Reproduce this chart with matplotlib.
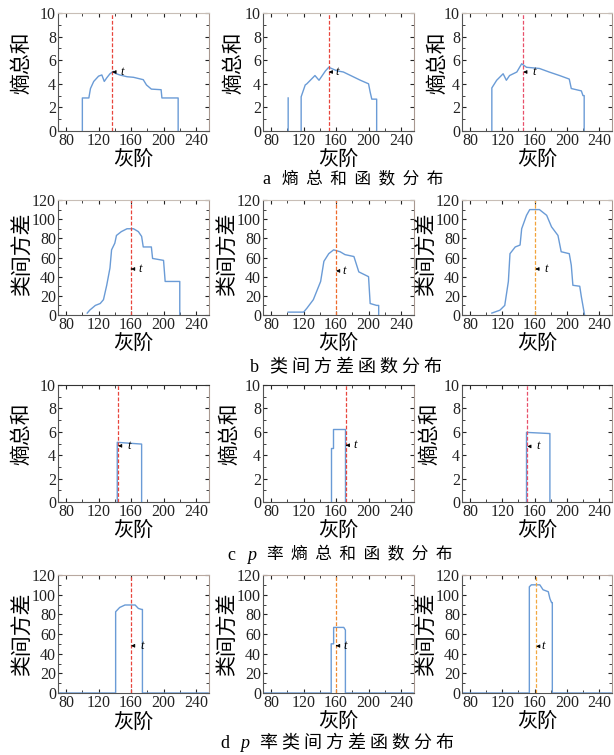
import numpy as np
import matplotlib
matplotlib.use("Agg")
import matplotlib.pyplot as plt
from matplotlib.ticker import MultipleLocator

plt.rcParams["font.family"] = ["Liberation Serif", "Noto Sans CJK SC", "DejaVu Sans"]

CJK = ["Noto Sans CJK SC", "DejaVu Sans"]
nan = np.nan

# ---- row a: entropy sum ----
A1_X = [100, 100, 108, 110, 114, 120, 124, 127, 130, 134, 138, 140, 146, 155, 163, 175, 179, 185, 197, 198, 218, 218]
A1_Y = [0, 2.8, 2.8, 3.6, 4.2, 4.65, 4.75, 4.2, 4.5, 4.85, 5.05, 4.9, 4.75, 4.6, 4.55, 4.35, 3.9, 3.55, 3.5, 2.8, 2.8, 0]
A2_X = [101, 101, nan, 117, 117, 122, 124, 134, 139, 143, 147, 151, 161, 169, 178, 190, 200, 202, 204, 210, 210]
A2_Y = [0, 2.8, nan, 0, 2.9, 3.9, 4.0, 4.7, 4.3, 4.7, 5.1, 5.4, 5.1, 5.0, 4.7, 4.3, 4.0, 3.3, 2.7, 2.7, 0]
A3_X = [107, 107, 113, 121, 125, 129, 138, 144, 150, 166, 178, 191, 203, 205.5, 218, 220, 221.5, 221.5]
A3_Y = [0, 3.65, 4.3, 4.85, 4.3, 4.7, 5.0, 5.7, 5.4, 5.3, 5.0, 4.7, 4.4, 3.6, 3.4, 3.0, 3.0, 0]

# ---- row b: between-class variance ----
B1_X = [106, 109, 116, 122, 126, 130, 134, 136, 140, 142, 148, 155, 163, 169, 173, 175, 185, 186.5, 200, 202, 220, 220]
B1_Y = [2, 5, 10, 12, 16, 31, 49, 68, 75, 83, 87, 90, 90, 87, 82, 71, 71, 59, 57, 35, 35, 0]
B2_X = [101, 120, 124, 132, 141, 145, 151, 157, 165, 171, 182, 188, 200, 202, 210, 212.5, 212.5]
B2_Y = [3, 3, 7, 16, 35, 56, 64, 68, 66, 63, 61, 45, 40, 12, 10, 10, 0]
B3_X = [107, 117, 123, 127.5, 129.5, 136, 142, 144, 150, 154, 166, 175, 181, 189, 193, 203, 205.5, 207.5, 216, 218, 222]
B3_Y = [2, 5, 10, 35, 64, 71, 73, 90, 104, 110, 110, 104, 92, 83, 66, 64, 52, 31, 30, 19, 0]

# ---- row c: p-rate entropy sum ----
C1_X = [143, 143, 173, 173]
C1_Y = [0, 5.1, 4.95, 0]
C2_X = [154, 154, 156, 156, 171, 171]
C2_Y = [0, 4.6, 4.6, 6.2, 6.2, 0]
C3_X = [150, 150, 179, 179]
C3_Y = [0, 5.95, 5.85, 0]

# ---- row d: p-rate between-class variance ----
D1_X = [0, 141, 141, 146, 152.5, 165, 169, 173, 174, 174, 255]
D1_Y = [0, 0, 82.6, 87, 89.5, 89.5, 86, 85, 85, 0, 0]
D2_X = [0, 154, 154, 157, 157, 169.5, 171.5, 171.5, 255]
D2_Y = [0, 0, 50, 50, 66.7, 66.7, 64, 0, 0]
D3_X = [0, 153.5, 153.5, 156, 166.5, 170.5, 177, 179, 181, 182, 182, 255]
D3_Y = [0, 0, 108, 110, 110, 105, 103, 96, 92, 92, 0, 0]

# thresholds t and the "t" marker (y, text x)
T_VALUES = [[137, 151, 146], [160, 160, 161], [144, 172, 151], [160, 160, 162]]
T_MARK_Y = [[5.0, 5.0, 5.0], [48, 46, 48], [4.8, 4.85, 4.75], [48, 48, 47.5]]
T_TEXT_X = [[149, 161, 159.5], [171, 169.5, 174], [158, 184, 164.5], [174, 171.5, 170.5]]
T_COLORS = [["#e8453c", "#e8453c", "#e8506a"],
            ["#e8453c", "#ef6a2a", "#f2a33a"],
            ["#e8453c", "#e8453c", "#e8506a"],
            ["#e8453c", "#f08a30", "#f2a840"]]

ROW_LABELS = ["熵总和", "类间方差", "熵总和", "类间方差"]
ROW_YMAX = [10, 120, 10, 120]
ROW_YSTEP = [2, 20, 2, 20]
X_TICKS = [80, 120, 160, 200, 240]

# captions: (letter, italic prefix, chinese text)
CAPTION_LETTERS = ["a", "b", "c", "d"]
CAPTION_ITALIC = ["", "", "p", "p"]
CAPTION_TEXT = ["熵总和函数分布", "类间方差函数分布", "率熵总和函数分布", "率类间方差函数分布"]

SERIES = [[(A1_X, A1_Y), (A2_X, A2_Y), (A3_X, A3_Y)],
          [(B1_X, B1_Y), (B2_X, B2_Y), (B3_X, B3_Y)],
          [(C1_X, C1_Y), (C2_X, C2_Y), (C3_X, C3_Y)],
          [(D1_X, D1_Y), (D2_X, D2_Y), (D3_X, D3_Y)]]

# layout in pixels of the 614x755 page
W, H = 614, 755
COL_LEFT = [58, 263, 462]
COL_WIDTH = [151, 151, 150]
ROW_TOP = [13, 200, 385, 575]
ROW_BOTTOM = [131, 315, 502, 693]
CAPTION_X = [353, 346, 340, 337]
CAPTION_Y = [180, 367, 555, 743]
CAPTION_SEP = ["  ", " ", "  ", " "]
CAPTION_SIZE = [12, 13, 12, 13]
YLABEL_X = [[-0.166, -0.12, -0.087], [-0.166, -0.166, -0.166],
            [-0.166, -0.152, -0.146], [-0.166, -0.166, -0.166]]
YLABEL_Y = [0.58, 0.53, 0.58, 0.5]
XLABEL_Y = [[-0.155, -0.15, -0.15], [-0.155, -0.155, -0.155],
            [-0.15, -0.15, -0.15], [-0.16, -0.15, -0.15]]
TOP_SPINE = ["#c8beb6", "#c8beb6", "#333333", "#b8a8a0"]

fig = plt.figure(figsize=(W / 100, H / 100), dpi=100)

for r in range(4):
    for c in range(3):
        ax = fig.add_axes([COL_LEFT[c] / W, 1 - ROW_BOTTOM[r] / H,
                           COL_WIDTH[c] / W, (ROW_BOTTOM[r] - ROW_TOP[r]) / H])
        xs, ys = SERIES[r][c]
        ax.plot(xs, ys, color="#6a9bd6", linewidth=1.0)

        t = T_VALUES[r][c]
        ax.axvline(t, color=T_COLORS[r][c], linestyle=(0, (3, 1.5)), linewidth=0.9)
        ax.annotate("t", xy=(t, T_MARK_Y[r][c]), xytext=(T_TEXT_X[r][c], T_MARK_Y[r][c]),
                    fontsize=9, style="italic", va="center", ha="center",
                    arrowprops=dict(arrowstyle="-|>", color="black", lw=0.6,
                                    mutation_scale=5, shrinkA=3, shrinkB=0))

        ymax = ROW_YMAX[r]
        ax.set_xlim(70, 256)
        ax.set_ylim(0, ymax)
        ax.set_xticks(X_TICKS)
        ax.xaxis.set_minor_locator(MultipleLocator(20))
        ax.set_yticks(np.arange(0, ymax + 1, ROW_YSTEP[r]))
        ax.yaxis.set_minor_locator(MultipleLocator(ROW_YSTEP[r] / 2))
        ax.tick_params(which="both", direction="in", top=True, right=True,
                       labelsize=11.5, pad=1.5, colors="#222222")
        ax.tick_params(which="major", length=3)
        ax.tick_params(which="minor", length=2)
        ax.spines["top"].set_color(TOP_SPINE[r])
        ax.spines["right"].set_color("#a89890")
        for side in ["left", "bottom"]:
            ax.spines[side].set_color("#555555")
        for sp in ax.spines.values():
            sp.set_linewidth(0.8)

        ax.set_ylabel(ROW_LABELS[r], family=CJK, fontsize=15)
        ax.yaxis.set_label_coords(YLABEL_X[r][c], YLABEL_Y[r])
        ax.set_xlabel("灰阶", family=CJK, fontsize=14.5)
        ax.xaxis.set_label_coords(0.5, XLABEL_Y[r][c])

# captions are laid out piece by piece so the italic p sits between the letter and the chinese
renderer = fig.canvas.get_renderer()
for r in range(4):
    y = 1 - CAPTION_Y[r] / H
    pieces = [fig.text(0, y, CAPTION_LETTERS[r], family=["Liberation Serif"],
                       fontsize=13, va="center")]
    if CAPTION_ITALIC[r]:
        pieces.append(fig.text(0, y, CAPTION_ITALIC[r], family=["Liberation Serif"],
                               style="italic", fontsize=13, va="center"))
    pieces.append(fig.text(0, y, CAPTION_SEP[r].join(CAPTION_TEXT[r]), family=CJK,
                           fontsize=CAPTION_SIZE[r], va="center"))
    gap = 11
    widths = [p.get_window_extent(renderer).width for p in pieces]
    x = CAPTION_X[r] - (sum(widths) + gap * (len(pieces) - 1)) / 2
    for p, w in zip(pieces, widths):
        p.set_x(x / W)
        x += w + gap

fig.savefig("out.png", dpi=100)
